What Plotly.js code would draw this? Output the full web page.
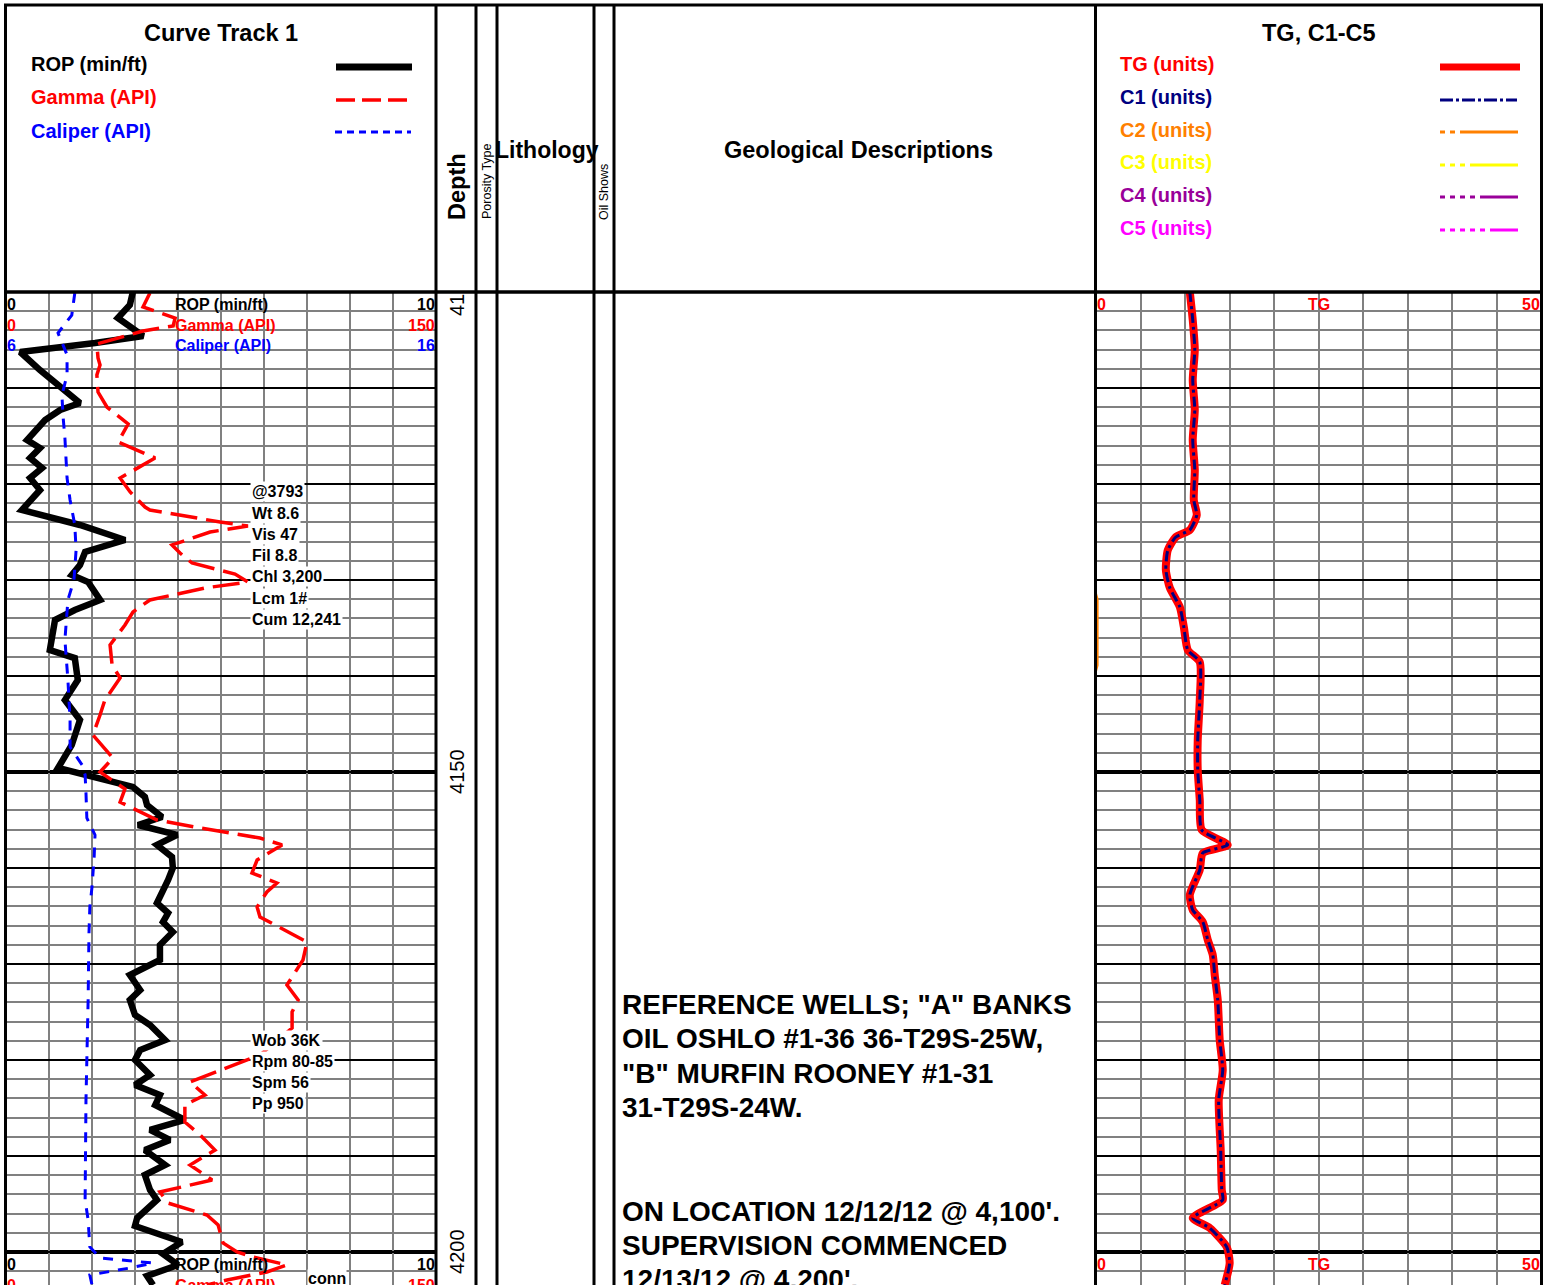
<!DOCTYPE html>
<html>
<head>
<meta charset="utf-8">
<script src="https://cdn.plot.ly/plotly-3.0.1.min.js"></script>
<style>html,body{margin:0;padding:0;background:#fff;}#chart{width:1554px;height:1285px;}</style>
</head>
<body>
<div id="chart"></div>
<script>
// ---------------- DATA ----------------
const ropDepth = [4100.00,4101.35,4102.71,4104.58,4105.31,4106.25,4108.13,4111.56,4112.29,4113.33,4115.42,4116.25,4117.29,4118.33,4119.38,4120.63,4122.71,4124.27,4125.83,4127.08,4128.44,4129.48,4130.21,4132.08,4133.13,4134.17,4137.29,4138.13,4140.42,4142.50,4144.58,4147.19,4149.58,4151.56,4152.60,4153.44,4154.69,4155.52,4156.56,4157.60,4158.85,4160.00,4161.25,4163.65,4164.69,4165.63,4166.67,4168.02,4169.58,4171.15,4172.71,4173.75,4175.31,4176.35,4177.92,4178.96,4180.00,4181.56,4182.60,4183.65,4184.69,4186.25,4187.29,4188.33,4189.38,4190.94,4191.98,4193.54,4194.58,4196.46,4197.29,4198.96,4200.21,4201.35,4202.50,4203.44];
const ropValue = [2.95,2.88,2.60,3.19,2.07,0.33,0.79,1.72,1.26,0.91,0.49,0.79,0.56,0.84,0.56,0.79,0.37,1.72,2.77,1.84,1.72,1.53,1.91,2.19,1.60,1.14,1.02,1.60,1.67,1.37,1.72,1.53,1.21,2.95,3.23,3.28,3.63,3.07,3.98,3.51,3.86,3.88,3.77,3.51,3.77,3.65,3.88,3.58,3.58,2.88,3.12,2.88,3.00,3.35,3.70,3.12,3.00,3.35,3.00,3.58,3.47,4.16,3.35,3.81,3.23,3.70,3.23,3.35,3.51,3.05,3.00,4.09,3.65,4.00,3.28,3.42];

const gammaDepth = [4100.10,4101.56,4102.71,4103.54,4104.06,4105.42,4106.88,4107.60,4108.65,4110.42,4111.98,4113.75,4115.63,4117.29,4119.38,4120.83,4122.40,4122.71,4123.96,4124.38,4125.00,4126.35,4127.19,4128.23,4129.38,4130.21,4130.83,4132.08,4133.33,4134.69,4136.77,4138.85,4140.21,4142.50,4144.06,4146.15,4148.54,4150.00,4151.77,4153.13,4155.00,4155.83,4156.88,4157.60,4159.17,4160.52,4161.56,4162.50,4164.06,4165.10,4166.77,4167.71,4169.58,4172.19,4173.75,4175.00,4176.67,4179.48,4182.29,4183.65,4184.69,4186.46,4187.81,4189.38,4190.94,4192.50,4193.75,4194.90,4196.15,4197.19,4199.06,4200.00,4200.52,4201.35,4202.08,4202.92,4203.44];
const gammaValue = [50.2,47.8,59.0,58.3,47.8,31.7,32.1,32.8,31.7,32.1,35.2,42.6,39.1,52.0,39.8,43.3,48.5,50.2,74.7,84.4,71.2,57.9,60.7,64.9,79.9,84.4,69.4,50.2,44.3,41.5,36.3,37.0,39.8,34.5,32.8,30.3,37.3,32.8,41.5,39.8,52.7,67.7,88.6,96.3,87.6,85.8,94.5,91.0,87.6,88.6,99.1,105.0,103.6,98.0,101.9,99.8,99.8,88.6,64.2,69.4,62.4,62.4,67.7,72.9,64.2,71.9,53.7,56.5,70.1,74.0,75.7,80.6,86.2,98.0,91.0,77.1,70.1];

const caliperDepth = [4100.10,4102.40,4104.27,4106.56,4108.65,4110.73,4113.13,4115.21,4119.38,4121.67,4124.27,4126.88,4130.00,4132.08,4136.25,4140.42,4144.58,4147.40,4149.27,4150.31,4152.19,4154.79,4156.56,4158.85,4161.98,4164.06,4166.77,4173.75,4184.17,4194.58,4196.67,4199.48,4200.63,4201.15,4201.67,4202.40,4203.44];
const caliperValue = [7.60,7.53,7.21,7.42,7.42,7.30,7.33,7.37,7.42,7.49,7.60,7.63,7.58,7.44,7.37,7.44,7.49,7.49,7.77,7.84,7.86,7.88,8.07,8.05,8.00,7.95,7.93,7.91,7.86,7.84,7.91,7.95,8.19,9.42,8.88,7.95,8.00];

const tgDepth = [4100.00,4102.92,4106.04,4109.17,4112.29,4115.42,4118.54,4121.67,4123.23,4124.79,4125.52,4126.88,4128.96,4130.83,4132.81,4134.90,4137.29,4138.54,4142.50,4146.67,4149.79,4152.92,4156.04,4157.60,4158.44,4160.21,4162.81,4164.38,4165.63,4167.50,4169.06,4171.15,4173.75,4177.92,4181.04,4184.17,4189.38,4193.54,4194.58,4196.46,4197.50,4199.48,4201.15,4203.44];
const tgValue = [10.54,10.87,11.10,10.87,11.10,10.87,11.10,10.99,11.32,10.54,8.97,8.07,7.85,8.30,9.42,9.87,10.31,11.66,11.66,11.43,11.43,11.66,11.88,14.80,12.00,11.66,10.54,10.87,12.00,12.56,13.12,13.34,13.68,13.90,14.24,13.79,14.01,14.13,14.24,10.87,12.78,14.69,15.02,14.46];
const c1Depth = [4100.00,4102.92,4106.04,4109.17,4112.29,4115.42,4118.54,4121.67,4123.23,4124.79,4125.52,4126.88,4128.96,4130.83,4132.81,4134.90,4137.29,4138.54,4142.50,4146.67,4149.79,4152.92,4156.04,4157.60,4158.44,4160.21,4162.81,4164.38,4165.63,4167.50,4169.06,4171.15,4173.75,4177.92,4181.04,4184.17,4189.38,4193.54,4194.58,4196.46,4197.50,4199.48,4201.15,4203.44];
const c1Value = [10.54,10.87,11.10,10.87,11.10,10.87,11.10,10.99,11.32,10.54,8.97,8.07,7.85,8.30,9.42,9.87,10.31,11.66,11.66,11.43,11.43,11.66,11.88,14.80,12.00,11.66,10.54,10.87,12.00,12.56,13.12,13.34,13.68,13.90,14.24,13.79,14.01,14.13,14.24,10.87,12.78,14.69,15.02,14.46];
const c2Depth = [4100.0,4131.4,4132.0,4138.9,4139.5,4203.4];
const c2Value = [0.0,0.0,0.18,0.18,0.0,0.0];

const ropRange = [0, 10];
const gammaRange = [0, 150];
const caliperRange = [6, 16];
const tgRange = [0, 50];
const depthTop = 4100, depthBottom = 4203.44;
const depthLabelDepths = [4150, 4200];
const depthLabelTopText = '41';
const heavyDepths = [4150, 4200];
const scaleRowDepths = [4100, 4200];

const mudBlock1 = ['@3793','Wt 8.6','Vis 47','Fil 8.8','Chl 3,200','Lcm 1#','Cum 12,241'];
const mudBlock2 = ['Wob 36K','Rpm 80-85','Spm 56','Pp 950'];
const descLines1 = ['REFERENCE WELLS; "A" BANKS','OIL OSHLO #1-36 36-T29S-25W,','"B" MURFIN ROONEY #1-31','31-T29S-24W.'];
const descLines2 = ["ON LOCATION 12/12/12 @ 4,100'.","SUPERVISION COMMENCED","12/13/12 @ 4,200'."];

const curveLegend = [
  {name:'ROP (min/ft)', color:'#000000'},
  {name:'Gamma (API)', color:'#ff0000'},
  {name:'Caliper (API)', color:'#0000ff'}
];
const gasLegend = [
  {name:'TG (units)', color:'#ff0000'},
  {name:'C1 (units)', color:'#000080'},
  {name:'C2 (units)', color:'#ff8000'},
  {name:'C3 (units)', color:'#ffff00'},
  {name:'C4 (units)', color:'#990099'},
  {name:'C5 (units)', color:'#ff00ff'}
];

// ---------------- LAYOUT HELPERS ----------------
const W = 1554, H = 1285;
const FONT = 'Liberation Sans, Arial, sans-serif';
const fx = x => x / W;
const fy = y => 1 - y / H;

const annotations = [];
function txt(text, x, y, o) {
  o = o || {};
  annotations.push(Object.assign({
    text: text, x: fx(x), y: fy(y), xref: 'paper', yref: 'paper',
    showarrow: false, xanchor: o.xa || 'left', yanchor: 'middle',
    textangle: o.angle || 0,
    font: {family: FONT, size: o.size || 16, color: o.color || '#000'},
  }, o.extra || {}));
}
const B = s => '<b>' + s + '</b>';

// headers
txt(B('Curve Track 1'), 221, 33, {xa:'center', size:23.5});
txt(B('TG, C1-C5'), 1319, 33, {xa:'center', size:23.5});
txt(B('Depth'), 457, 187, {xa:'center', size:23.5, angle:-90});
txt('Porosity Type', 487, 181, {xa:'center', size:12.5, angle:-90});
txt(B('Lithology'), 547, 150, {xa:'center', size:23});
txt('Oil Shows', 604, 192, {xa:'center', size:12.5, angle:-90});
txt(B('Geological Descriptions'), 858, 150, {xa:'center', size:23.5});

// header legends (text)
curveLegend.forEach((c, i) => txt(B(c.name), 29, 64 + i * 33.5, {size:20, color:c.color}));
gasLegend.forEach((c, i) => txt(B(c.name), 1118, 64 + i * 32.8, {size:20, color:c.color}));

// track scale labels (at 4100 and 4200)
const trackScales = [
  {lo: String(ropRange[0]), hi: String(ropRange[1]), name:'ROP (min/ft)', color:'#000'},
  {lo: String(gammaRange[0]), hi: String(gammaRange[1]), name:'Gamma (API)', color:'#ff0000'},
  {lo: String(caliperRange[0]), hi: String(caliperRange[1]), name:'Caliper (API)', color:'#0000ff'}
];
scaleRowDepths.forEach(d => {
  const y0 = 292 + (d - depthTop) * 9.6;
  trackScales.forEach((s, i) => {
    const y = y0 + 12 + i * 21;
    if (y > H) return;
    txt(B(s.lo), 5, y, {color:s.color});
    txt(B(s.name), 173, y, {color:s.color});
    txt(B(s.hi), 437, y, {xa:'right', color:s.color});
  });
  txt(B(String(tgRange[0])), 1095, y0 + 12, {color:'#ff0000'});
  txt(B('TG'), 1319, y0 + 12, {xa:'center', color:'#ff0000'});
  txt(B(String(tgRange[1])), 1542, y0 + 12, {xa:'right', color:'#ff0000'});
});
txt(B('conn'), 307, 1278, {extra:{bgcolor:'#fff', borderpad:0}});

// mud data boxes
mudBlock1.forEach((s, i) => txt(B(s), 250, 492 + i * 21.2, {extra:{bgcolor:'#fff', borderpad:1}}));
mudBlock2.forEach((s, i) => txt(B(s), 250, 1040 + i * 21.2, {extra:{bgcolor:'#fff', borderpad:1}}));

// geological descriptions
descLines1.forEach((s, i) => txt(B(s), 620, 1004 + i * 34.6, {size:28}));
descLines2.forEach((s, i) => txt(B(s), 620, 1211 + i * 34.2, {size:28}));

// depth labels
annotations.push({text: depthLabelTopText, x: fx(457), y: depthTop, xref:'paper', yref:'y',
  showarrow:false, xanchor:'center', yanchor:'top', textangle:-90,
  font:{family:FONT, size:20, color:'#000'}});
depthLabelDepths.forEach(d => annotations.push({text: String(d), x: fx(457), y: d, xref:'paper', yref:'y',
  showarrow:false, xanchor:'center', yanchor:'middle', textangle:-90,
  font:{family:FONT, size:20, color:'#000'}}));

// shapes
const shapes = [];
function pline(x0, y0, x1, y1, color, width, dash) {
  shapes.push({type:'line', xref:'paper', yref:'paper', x0:fx(x0), x1:fx(x1), y0:fy(y0), y1:fy(y1),
    line:{color:color, width:width, dash:dash || 'solid'}, layer:'above'});
}
// legend samples
pline(336, 67, 412, 67, '#000', 7);
pline(336, 100, 412, 100, '#ff0000', 3.5, '19px,7px');
pline(335, 132, 411, 132, '#0000ff', 3, '7px,5px');
pline(1440, 67, 1520, 67, '#ff0000', 7);
pline(1440, 100, 1517, 100, '#000080', 3, '13px,3px,3px,3px');
pline(1440, 132, 1518, 132, '#ff8000', 3, '5px,5px,5px,5px,60px,40px');
pline(1440, 165, 1518, 165, '#ffff00', 3, '5px,5px,5px,5px,5px,5px,50px,40px');
pline(1440, 197, 1518, 197, '#990099', 3, '5px,5px,5px,5px,5px,5px,5px,5px,40px,40px');
pline(1440, 230, 1518, 230, '#ff00ff', 3, '5px,5px,5px,5px,5px,5px,5px,5px,5px,5px,32px,40px');

// heavy 50-ft lines in both tracks
heavyDepths.forEach(d => {
  ['x', 'x4'].forEach(ax => shapes.push({type:'line', xref: ax + ' domain', yref: ax === 'x' ? 'y' : 'y2',
    x0:0, x1:1, y0:d, y1:d, line:{color:'#000', width:4}, layer:'below'}));
});
// frame
[5.5, 436, 476, 497, 594, 614, 1095.5, 1541.5].forEach(x => pline(x, 4, x, H, '#000', 3));
pline(4, 5, 1543, 5, '#000', 3);
pline(4, 292, 1543, 292, '#000', 3.5);

// ---------------- TRACES ----------------
const traces = [
  {x: caliperValue, y: caliperDepth, xaxis:'x3', yaxis:'y', type:'scatter', mode:'lines',
   line:{color:'#0000ff', width:3, dash:'10px,9px'}, name:'Caliper (API)'},
  {x: gammaValue, y: gammaDepth, xaxis:'x2', yaxis:'y', type:'scatter', mode:'lines',
   line:{color:'#ff0000', width:3.5, dash:'27px,9px'}, name:'Gamma (API)'},
  {x: ropValue, y: ropDepth, xaxis:'x', yaxis:'y', type:'scatter', mode:'lines',
   line:{color:'#000', width:6.5}, name:'ROP (min/ft)'},
  {x: c2Value, y: c2Depth, xaxis:'x4', yaxis:'y2', type:'scatter', mode:'lines',
   line:{color:'#ff8000', width:2}, name:'C2 (units)'},
  {x: tgValue, y: tgDepth, xaxis:'x4', yaxis:'y2', type:'scatter', mode:'lines',
   line:{color:'#ff0000', width:8, shape:'spline', smoothing:0.6}, name:'TG (units)'},
  {x: c1Value, y: c1Depth, xaxis:'x4', yaxis:'y2', type:'scatter', mode:'lines',
   line:{color:'#000080', width:3, shape:'spline', smoothing:0.6, dash:'10px,4px,3px,4px'}, name:'C1 (units)'}
];

const yDomain = [0, fy(292)];
const gridY = {
  domain: yDomain, range:[depthBottom, depthTop], showgrid:true, tick0:depthTop, dtick:10,
  gridcolor:'#000', gridwidth:2, zeroline:false, showticklabels:false, ticks:'', showline:false,
  minor:{tick0:depthTop, dtick:2, showgrid:true, gridcolor:'#808080', gridwidth:2}, fixedrange:true
};
const hidden = {visible:false, showgrid:false, zeroline:false, fixedrange:true};

const layout = {
  width: W, height: H, margin:{l:0, r:0, t:0, b:0, pad:0},
  paper_bgcolor:'#fff', plot_bgcolor:'rgba(0,0,0,0)', showlegend:false,
  font:{family:FONT},
  xaxis: {domain:[fx(6), fx(436)], range:ropRange, anchor:'y', showgrid:true, tick0:0, dtick:1,
          gridcolor:'#808080', gridwidth:2, zeroline:false, showticklabels:false, ticks:'', fixedrange:true},
  xaxis2: Object.assign({overlaying:'x', anchor:'y', range:gammaRange}, hidden),
  xaxis3: Object.assign({overlaying:'x', anchor:'y', range:caliperRange}, hidden),
  xaxis4: {domain:[fx(1096), fx(1541)], range:tgRange, anchor:'y2', showgrid:true, tick0:0, dtick:5,
          gridcolor:'#808080', gridwidth:2, zeroline:false, showticklabels:false, ticks:'', fixedrange:true},
  yaxis: Object.assign({anchor:'x'}, gridY),
  yaxis2: Object.assign({anchor:'x4'}, gridY),
  shapes: shapes,
  annotations: annotations
};

Plotly.newPlot('chart', traces, layout, {staticPlot:true, displayModeBar:false});
</script>
</body>
</html>
